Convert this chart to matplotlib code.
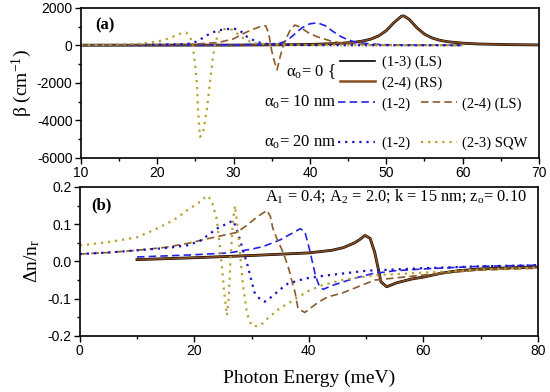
import matplotlib
matplotlib.use("Agg")
import matplotlib.pyplot as plt
from matplotlib.ticker import MultipleLocator

plt.rcParams['font.family'] = 'Liberation Sans'
plt.rcParams['axes.unicode_minus'] = False
plt.rcParams['mathtext.fontset'] = 'custom'
plt.rcParams['mathtext.rm'] = 'Liberation Serif'
plt.rcParams['mathtext.it'] = 'Liberation Serif:italic'

# ---- panel (a): absorption coefficient beta (cm^-1) ----
a0_e = [10, 20, 30, 36, 40, 44, 46, 47, 48, 49, 50, 51, 52, 52.3, 53, 54, 55, 56, 57, 58, 60, 62, 66, 70]
a0_b = [10, 12, 15, 30, 49, 105, 176, 238, 338, 503, 785, 1210, 1557, 1570, 1387, 940, 599, 394, 272, 197, 116, 75, 39, 24]

a10_12_e = [10, 20, 30, 34, 36, 37, 38, 39, 40, 41, 42, 43, 44, 45, 46, 48, 50, 55, 60]
a10_12_b = [5, 10, 25, 50, 110, 250, 600, 950, 1150, 1200, 1050, 750, 480, 290, 170, 70, 35, 15, 8]

a10_24_e = [10, 20, 25, 28, 30, 31.5, 32.5, 33.5, 34.2, 34.6, 35.0, 35.4, 35.7, 36.1, 36.5, 36.8, 37.4, 38.0,
            38.6, 39.8, 41, 43, 45, 48, 52, 60]
a10_24_b = [10, 30, 70, 150, 350, 670, 850, 1000, 1050, 650, -300, -930, -1300, -600, -50, 300, 800, 1080,
            1000, 670, 450, 200, 90, 30, 10, 5]

a20_12_e = [10, 18, 22, 24, 25, 26, 27, 28, 29, 30, 30.8, 31.8, 33, 34, 36, 40, 50, 60]
a20_12_b = [10, 30, 50, 80, 180, 400, 650, 800, 860, 900, 800, 450, 190, 90, 30, 10, 5, 3]

a20_23_e = [10, 15, 18, 20, 21, 22, 23, 23.8, 24.3, 24.6, 24.9, 25.2, 25.35, 25.6, 26.0, 26.5, 26.9, 27.3,
            27.6, 28.2, 29.0, 29.9, 31, 32.5, 35, 40, 50, 60]
a20_23_b = [10, 30, 100, 200, 300, 450, 620, 680, 450, 150, -770, -2000, -3440, -4880, -4670, -3440, -2000, -610,
            130, 830, 880, 830, 450, 120, 40, 15, 5, 3]

# ---- panel (b): refractive index change dn/nr ----
b0_e = [10, 20, 30, 40, 44, 46, 48, 49, 49.8, 50.7, 51.5, 52.1, 52.6, 53.6, 55.4, 58, 60, 63, 66, 70, 75, 80]
b0_n = [0.005, 0.01, 0.016, 0.023, 0.03, 0.037, 0.05, 0.06, 0.07, 0.062, 0.025, -0.018, -0.055, -0.068, -0.057,
        -0.047, -0.042, -0.032, -0.025, -0.02, -0.017, -0.015]

b10_12_e = [10, 15, 20, 26, 30, 32, 35, 37, 38.5, 39.3, 40, 40.6, 41.2, 41.8, 42.5, 44, 46, 48, 51, 55, 60, 70, 80]
b10_12_n = [0.012, 0.015, 0.018, 0.023, 0.033, 0.04, 0.058, 0.075, 0.088, 0.08, 0.04, 0.0, -0.04, -0.065, -0.075,
            -0.065, -0.055, -0.045, -0.033, -0.025, -0.02, -0.013, -0.01]

b10_24_e = [0, 5, 10, 15, 18.7, 22, 25, 27.4, 29, 31, 32.7, 33.3, 33.7, 34.4, 35.2, 35.8, 36.5, 37, 37.6, 38.1,
            39.3, 41.6, 43.3, 45.8, 51.5, 60.3, 69, 80]
b10_24_n = [0.02, 0.024, 0.03, 0.038, 0.048, 0.06, 0.07, 0.078, 0.095, 0.12, 0.137, 0.12, 0.09, 0.062, 0.035, 0.012,
            -0.02, -0.05, -0.083, -0.126, -0.137, -0.11, -0.095, -0.085, -0.05, -0.036, -0.024, -0.018]

b20_12_e = [0, 5, 10, 15, 18.7, 21, 23.9, 25.5, 26.8, 27.6, 28.5, 29.3, 30.5, 31.5, 32.3, 33.5, 35, 36.3, 39.3,
            42.8, 50, 60, 70, 80]
b20_12_n = [0.02, 0.024, 0.03, 0.036, 0.043, 0.055, 0.088, 0.1, 0.11, 0.078, 0.03, -0.01, -0.083, -0.102, -0.108,
            -0.095, -0.075, -0.06, -0.046, -0.038, -0.025, -0.018, -0.013, -0.01]

b20_23_e = [0, 5, 10, 13, 16.3, 19, 21, 22.2, 23, 23.9, 24.4, 24.8, 25.2, 25.7, 26, 26.3, 26.7, 27.1, 27.5, 28,
            28.5, 29.2, 30, 31, 32, 33, 34.9, 36.7, 39.8, 42.3, 45.8, 51.5, 60, 70, 80]
b20_23_n = [0.043, 0.052, 0.065, 0.085, 0.11, 0.14, 0.16, 0.177, 0.165, 0.115, 0.05, -0.01, -0.08, -0.145, -0.1,
            0.0, 0.1, 0.15, 0.1, 0.02, -0.064, -0.14, -0.172, -0.174, -0.166, -0.15, -0.126, -0.11, -0.08, -0.064,
            -0.05, -0.037, -0.03, -0.022, -0.016]

c_blue = '#2323e6'
c_blue_dot = '#1a14c0'
c_brown = '#8b4c1f'
c_brown_dash = '#8b5a2b'
c_olive = '#b8a030'

dash = (0, (4.5, 2.5))
dot = (0, (1, 2.2))

fig = plt.figure(figsize=(5.5, 3.92), dpi=100)
ax1 = fig.add_axes([0.147, 0.597, 0.833, 0.383])
ax2 = fig.add_axes([0.145, 0.143, 0.833, 0.38])

# panel (a)
ax1.plot(a0_e, a0_b, color='black', lw=2.0)
ax1.plot(a0_e, a0_b, color=c_brown, lw=1.2)
ax1.plot(a10_12_e, a10_12_b, color=c_blue, lw=1.2, ls=dash)
ax1.plot(a10_24_e, a10_24_b, color=c_brown_dash, lw=1.2, ls=dash)
ax1.plot(a20_12_e, a20_12_b, color=c_blue_dot, lw=1.6, ls=dot)
ax1.plot(a20_23_e, a20_23_b, color=c_olive, lw=1.6, ls=dot)

ax1.set_xlim(10, 70)
ax1.set_ylim(-6000, 2000)
ax1.xaxis.set_major_locator(MultipleLocator(10))
ax1.xaxis.set_minor_locator(MultipleLocator(5))
ax1.yaxis.set_major_locator(MultipleLocator(2000))
ax1.yaxis.set_minor_locator(MultipleLocator(1000))
ax1.set_ylabel('β (cm$^{-1}$)', fontsize=14, family='Liberation Serif', labelpad=2)

# legend of panel (a), drawn by hand
tf = ax1.transAxes
serif = dict(family='Liberation Serif', fontsize=10.5, transform=tf, va='center')
alpha_txt = dict(serif, fontsize=12)
ax1.text(0.557, 0.575, 'α$_\\mathrm{o}$= 0 {', ha='right', **alpha_txt)
ax1.plot([0.566, 0.642], [0.647, 0.647], color='black', lw=1.2, transform=tf)
ax1.plot([0.566, 0.642], [0.513, 0.513], color=c_brown, lw=1.8, transform=tf)
ax1.text(0.657, 0.635, '(1-3) (LS)', ha='left', **serif)
ax1.text(0.657, 0.495, '(2-4) (RS)', ha='left', **serif)

ax1.text(0.557, 0.37, 'α$_\\mathrm{o}$= 10 nm', ha='right', **alpha_txt)
ax1.plot([0.562, 0.642], [0.373, 0.373], color=c_blue, lw=1.2, ls=dash, transform=tf)
ax1.text(0.657, 0.36, '(1-2)', ha='left', **serif)
ax1.plot([0.742, 0.821], [0.373, 0.373], color=c_brown_dash, lw=1.2, ls=dash, transform=tf)
ax1.text(0.832, 0.36, '(2-4) (LS)', ha='left', **serif)

ax1.text(0.557, 0.105, 'α$_\\mathrm{o}$= 20 nm', ha='right', **alpha_txt)
ax1.plot([0.562, 0.642], [0.107, 0.107], color=c_blue_dot, lw=1.6, ls=dot, transform=tf)
ax1.text(0.657, 0.095, '(1-2)', ha='left', **serif)
ax1.plot([0.742, 0.821], [0.107, 0.107], color=c_olive, lw=1.6, ls=dot, transform=tf)
ax1.text(0.832, 0.095, '(2-3) SQW', ha='left', **serif)

ax1.text(0.031, 0.88, '(a)', transform=tf, family='Liberation Serif', fontsize=12,
         fontweight='bold', va='center', ha='left')

# panel (b)
ax2.plot(b0_e, b0_n, color='black', lw=2.0)
ax2.plot(b0_e, b0_n, color=c_brown, lw=1.2)
ax2.plot(b10_12_e, b10_12_n, color=c_blue, lw=1.2, ls=dash)
ax2.plot(b10_24_e, b10_24_n, color=c_brown_dash, lw=1.2, ls=dash)
ax2.plot(b20_12_e, b20_12_n, color=c_blue_dot, lw=1.6, ls=dot)
ax2.plot(b20_23_e, b20_23_n, color=c_olive, lw=1.6, ls=dot)

ax2.set_xlim(0, 80)
ax2.set_ylim(-0.2, 0.2)
ax2.xaxis.set_major_locator(MultipleLocator(20))
ax2.xaxis.set_minor_locator(MultipleLocator(10))
ax2.yaxis.set_major_locator(MultipleLocator(0.1))
ax2.yaxis.set_minor_locator(MultipleLocator(0.05))
ax2.yaxis.set_major_formatter(matplotlib.ticker.FormatStrFormatter('%.1f'))
ax2.set_ylabel('Δn/n$_\\mathrm{r}$', fontsize=14, family='Liberation Serif', labelpad=4)
ax2.set_xlabel('Photon Energy (meV)', fontsize=14, family='Liberation Serif', labelpad=8)

ax2.text(0.69, 0.998, r'A$_1$ = 0.4; A$_2$ = 2.0; k = 15 nm; z$_\mathrm{o}$= 0.10', transform=ax2.transAxes,
         family='Liberation Serif', fontsize=11.8, ha='center', va='top')
ax2.text(0.026, 0.879, '(b)', transform=ax2.transAxes, family='Liberation Serif', fontsize=12,
         fontweight='bold', va='center', ha='left')

for ax in (ax1, ax2):
    ax.tick_params(which='major', direction='out', length=4, width=1, labelsize=10, pad=2)
    ax.tick_params(which='minor', direction='out', length=2.5, width=1)
    for s in ax.spines.values():
        s.set_linewidth(1.2)

fig.savefig('out.png', dpi=100)
